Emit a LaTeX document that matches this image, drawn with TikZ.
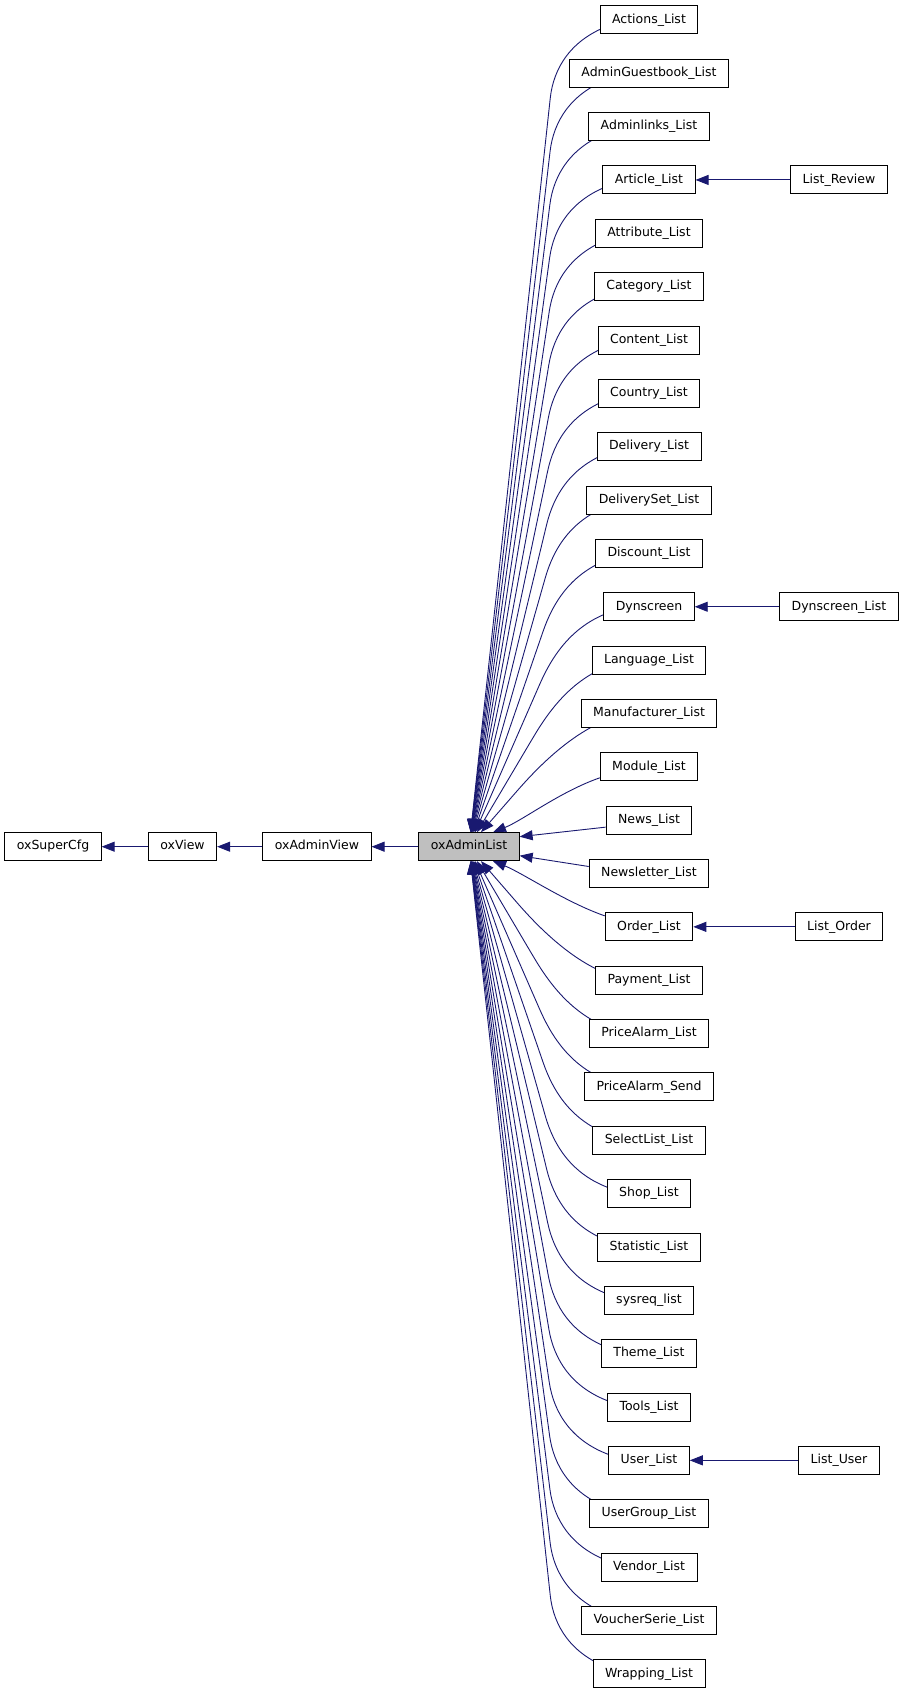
\documentclass[tikz,border=0pt]{standalone}
\usepackage{fontspec}
\setmainfont{DejaVu Sans}
\usetikzlibrary{arrows.meta, calc}
\definecolor{edgeblue}{RGB}{25,25,112}
\pgfdeclarelayer{background}
\pgfsetlayers{background,main}

\begin{document}
\begin{tikzpicture}[x=1pt, y=-1pt,
	cls/.style={draw=black, line width=0.9pt, fill=white, minimum height=28pt, inner xsep=12pt, inner ysep=0pt,
		text height=9.5pt, text depth=3pt, font=\fontsize{12.5}{15}\selectfont},
	edge/.style={draw=edgeblue, line width=0.9pt, -{Triangle[length=13pt, width=10pt, fill=edgeblue]}}]
	\useasboundingbox (0,0) rectangle (904,1693);
	% base classes
	\node[cls] (osc) at (53, 846.7) {oxSuperCfg};
	\node[cls] (ov) at (182.5, 846.7) {oxView};
	\node[cls] (aview) at (317, 846.7) {oxAdminView};
	\node[cls, fill=black!25] (alist) at (469, 846.7) {oxAdminList};
	\draw[edge] (ov) -- (osc);
	\draw[edge] (aview) -- (ov);
	\draw[edge] (alist) -- (aview);
	% derived classes
	\foreach \name/\txt [count=\i from 0] in {act/Actions\_List, agb/AdminGuestbook\_List, alink/Adminlinks\_List,
		art/Article\_List, attr/Attribute\_List, cat/Category\_List, cont/Content\_List, ctry/Country\_List,
		deliv/Delivery\_List, dset/DeliverySet\_List, disc/Discount\_List, dyn/Dynscreen, lang/Language\_List,
		man/Manufacturer\_List, mod/Module\_List, news/News\_List, nlet/Newsletter\_List, ord/Order\_List,
		pay/Payment\_List, pal/PriceAlarm\_List, pas/PriceAlarm\_Send, sel/SelectList\_List, shop/Shop\_List,
		stat/Statistic\_List, sys/sysreq\_list, theme/Theme\_List, tools/Tools\_List, user/User\_List,
		ugrp/UserGroup\_List, vend/Vendor\_List, vser/VoucherSerie\_List, wrap/Wrapping\_List}
		\node[cls] (\name) at (649, {19.9+53.35*\i}) {\txt};
	\coordinate (startx) at (611, 0);
	\begin{pgfonlayer}{background}
	\foreach \name [count=\k from 2] in {man, lang, dyn, disc, dset, deliv, ctry, cont, cat, attr, art, alink, agb, act} {
		\pgfmathsetmacro\tx{24/\k}
		\pgfmathsetmacro\bx{552-100/(\k^1.5)}
		\coordinate (s0) at ([yshift=-5pt]\name.center);
		\coordinate (s) at (s0 -| startx);
		\coordinate (bxc) at (\bx, 0);
		\coordinate (b0) at ([yshift=-78pt]\name.center);
		\coordinate (b) at (b0 -| bxc);
		\coordinate (t) at ([xshift=\tx pt]alist.north);
		\draw[edge] (s) .. controls +(-40,14) and ($(b)!-30pt!(t)$) .. (b) -- (t);
	}
	\foreach \name [count=\k from 2] in {pay, pal, pas, sel, shop, stat, sys, theme, tools, user, ugrp, vend, vser, wrap} {
		\pgfmathsetmacro\tx{24/\k}
		\pgfmathsetmacro\bx{552-100/(\k^1.5)}
		\coordinate (s0) at ([yshift=5pt]\name.center);
		\coordinate (s) at (s0 -| startx);
		\coordinate (bxc) at (\bx, 0);
		\coordinate (b0) at ([yshift=78pt]\name.center);
		\coordinate (b) at (b0 -| bxc);
		\coordinate (t) at ([xshift=\tx pt]alist.south);
		\draw[edge] (s) .. controls +(-40,-14) and ($(b)!-30pt!(t)$) .. (b) -- (t);
	}
	\end{pgfonlayer}
	\draw[edge] ([yshift=-11pt]mod.west) .. controls +(-40,14) and +(30,-12) .. ([xshift=24pt]alist.north);
	\draw[edge] ([yshift=11pt]ord.west) .. controls +(-40,-14) and +(30,12) .. ([xshift=24pt]alist.south);
	\draw[edge] ([yshift=-7pt]news.west) -- ([yshift=10pt]alist.east);
	\draw[edge] ([yshift=7pt]nlet.west) -- ([yshift=-9pt]alist.east);
	% third level
	\node[cls] (lrev) at (839, {19.9+53.35*3}) {List\_Review};
	\node[cls] (ldyn) at (839, {19.9+53.35*11}) {Dynscreen\_List};
	\node[cls] (lord) at (839, {19.9+53.35*17}) {List\_Order};
	\node[cls] (luser) at (839, {19.9+53.35*27}) {List\_User};
	\draw[edge] (lrev) -- (art);
	\draw[edge] (ldyn) -- (dyn);
	\draw[edge] (lord) -- (ord);
	\draw[edge] (luser) -- (user);
\end{tikzpicture}
\end{document}
